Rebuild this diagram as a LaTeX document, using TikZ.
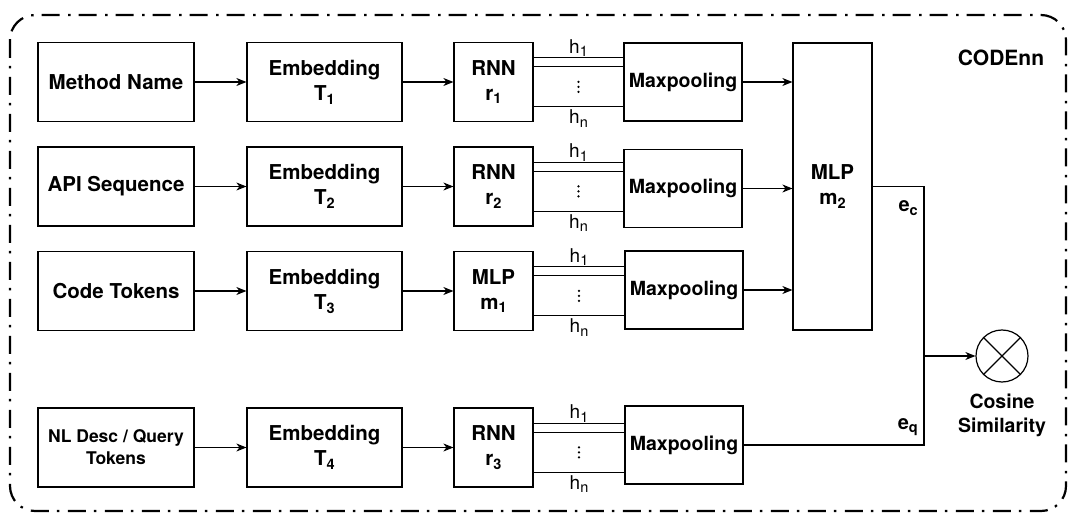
\documentclass[tikz,border=0pt]{standalone}
\usepackage{fontspec}
\setmainfont{TeX Gyre Heros}
\usetikzlibrary{arrows.meta,calc}
\newcommand\sbs[1]{\raisebox{-0.35ex}{\fontsize{14.5}{14.5}\selectfont #1}}
\begin{document}
\begin{tikzpicture}[x=1pt,y=-1pt,
  box/.style={draw,line width=1.2pt,rectangle,inner sep=0pt,align=center,
    font=\fontsize{20.5}{25}\selectfont\bfseries},
  inbox/.style={box,minimum width=156pt,minimum height=79pt},
  embbox/.style={box,minimum width=155pt,minimum height=79pt},
  rnnbox/.style={box,minimum width=79pt,minimum height=79pt},
  mpbox/.style={box,minimum width=118pt,minimum height=78pt,font=\fontsize{19.5}{23}\selectfont\bfseries},
  arr/.style={line width=1.2pt,-{Stealth[length=10pt,width=8pt,inset=3pt]}},
  hline/.style={line width=1.2pt},
  hlab/.style={inner sep=1pt,font=\fontsize{19}{22}\selectfont},
  lab/.style={inner sep=0pt,font=\fontsize{20}{24}\selectfont\bfseries,align=center},
  frame/.style={line width=2.2pt,rounded corners=25pt,dash pattern=on 18pt off 8pt on 2.5pt off 8.5pt}
]
\useasboundingbox (0,0) rectangle (1080,529);
\draw[frame] (10,15) rectangle (1066,511);
\node[lab,font=\fontsize{21}{24}\selectfont\bfseries] (codenn) at (1001,58) {CODEnn};

% row 1
\node[inbox] (in1) at (116,82) {Method Name};
\node[embbox] (e1) at (324.5,82) {Embedding\\T\sbs{1}};
\node[rnnbox] (r1) at (493.5,82) {RNN\\r\sbs{1}};
\node[mpbox] (mp1) at (683,82) {Maxpooling};
% row 2
\node[inbox] (in2) at (116,186.5) {API Sequence};
\node[embbox] (e2) at (324.5,186.5) {Embedding\\T\sbs{2}};
\node[rnnbox] (r2) at (493.5,186.5) {RNN\\r\sbs{2}};
\node[mpbox] (mp2) at (683,188.5) {Maxpooling};
% row 3
\node[inbox] (in3) at (116,291) {Code Tokens};
\node[embbox] (e3) at (324.5,291) {Embedding\\T\sbs{3}};
\node[rnnbox] (r3) at (493.5,291) {MLP\\m\sbs{1}};
\node[mpbox] (mp3) at (684,290) {Maxpooling};
% row 4
\node[inbox,font=\fontsize{17.5}{22}\selectfont\bfseries] (in4) at (116,447.5) {NL Desc / Query\\Tokens};
\node[embbox] (e4) at (324.5,447.5) {Embedding\\T\sbs{4}};
\node[rnnbox] (r4) at (493.5,447.5) {RNN\\r\sbs{3}};
\node[mpbox] (mp4) at (684,445) {Maxpooling};

% MLP m2
\node[box,minimum width=79pt,minimum height=287pt] (m2) at (832.5,186.5) {MLP\\m\sbs{2}};

\foreach \i in {1,2,3,4}{
  \draw[arr] (in\i.east) -- (in\i.east -| e\i.west);
  \draw[arr] (e\i.east) -- (e\i.east -| r\i.west);
  \coordinate (a\i) at ([yshift=-16pt]r\i.north east);
  \coordinate (b\i) at ([yshift=-25pt]r\i.north east);
  \coordinate (c\i) at ([yshift=-65pt]r\i.north east);
  \draw[hline] (a\i) -- (a\i -| mp\i.west);
  \draw[hline] (b\i) -- (b\i -| mp\i.west);
  \draw[hline] (c\i) -- (c\i -| mp\i.west);
  \node[hlab,anchor=south] (h1\i) at ($(a\i)!0.5!(a\i -| mp\i.west)$) {h\sbs{1}};
  \node[hlab,anchor=north,inner sep=3pt] (hn\i) at ($(c\i)!0.5!(c\i -| mp\i.west)$) {h\sbs{n}};
  \coordinate (d\i) at ($(b\i)!0.5!(c\i -| mp\i.west)$);
  \fill ([yshift=-5pt]d\i) circle (1.3pt) (d\i) circle (1.3pt) ([yshift=5pt]d\i) circle (1.3pt);
}
\foreach \i in {1,2,3}{
  \draw[arr] (mp\i.east) -- (mp\i.east -| m2.west);
}

% output and cosine similarity
\node[draw,circle,line width=1.2pt,minimum size=52pt,inner sep=0pt] (cs) at (1002,356) {};
\draw[line width=1.2pt] (cs.north west) -- (cs.south east);
\draw[line width=1.2pt] (cs.north east) -- (cs.south west);
\node[lab,anchor=north,font=\fontsize{19.5}{24}\selectfont\bfseries] (cslab) at (1002,394) {Cosine\\Similarity};
\coordinate (ecc) at (924,186.5);
\coordinate (eqc) at (924,445);
\draw[line width=1.2pt] (m2.east) -- (ecc) -- (eqc) -- (mp4.east);
\draw[arr] (ecc |- cs.west) -- (cs.west);
\node[lab,anchor=east] (ec) at (918,208) {e\sbs{c}};
\node[lab,anchor=east] (eq) at (918,427) {e\sbs{q}};
\end{tikzpicture}
\end{document}
